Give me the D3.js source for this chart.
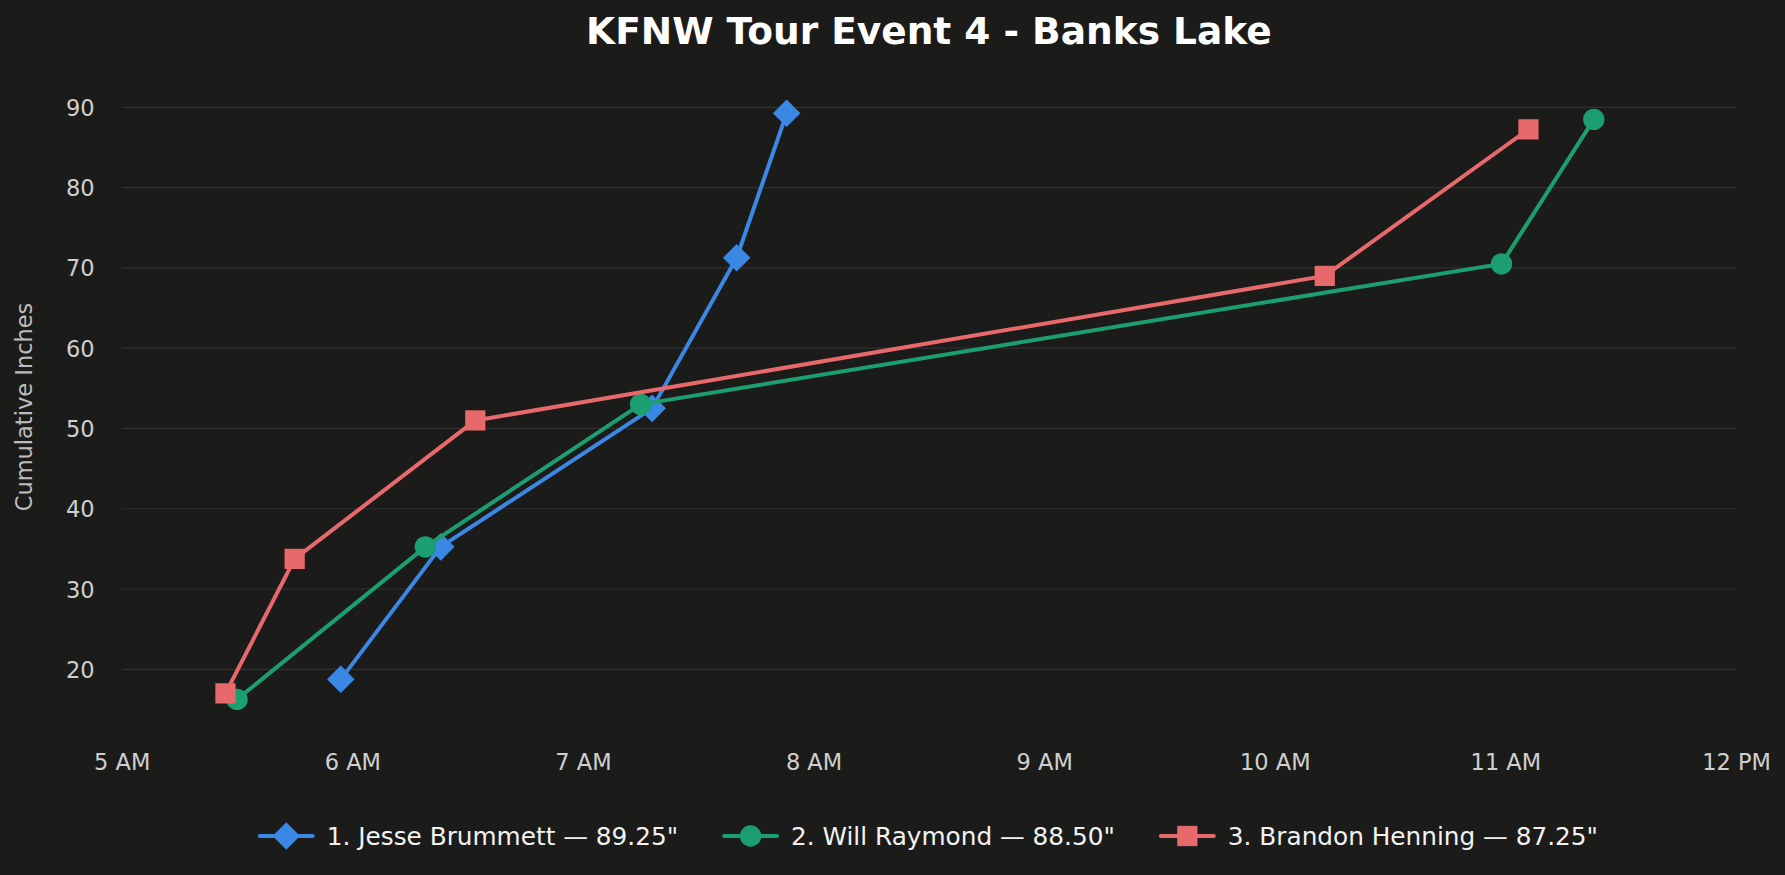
<!DOCTYPE html>
<html>
<head>
<meta charset="utf-8">
<script src="https://cdn.jsdelivr.net/npm/d3@7"></script>
<style>
  html, body { margin: 0; padding: 0; background: #1b1b1a; }
  svg { display: block; font-family: "DejaVu Sans", sans-serif; }
</style>
</head>
<body>
<script>
// Chart data
var chartTitle = "KFNW Tour Event 4 - Banks Lake";
var yLabel = "Cumulative Inches";
var anglers = [
  "1. Jesse Brummett — 89.25\"",
  "2. Will Raymond — 88.50\"",
  "3. Brandon Henning — 87.25\""
];
var jesseTimes = ["05:57", "06:23", "07:18", "07:40", "07:53"];
var jesseInches = [18.75, 35.25, 52.5, 71.25, 89.25];
var willTimes = ["05:30", "06:19", "07:15", "10:59", "11:23"];
var willInches = [16.25, 35.25, 53, 70.5, 88.5];
var brandonTimes = ["05:27", "05:45", "06:32", "10:13", "11:06"];
var brandonInches = [17, 33.75, 51, 69, 87.25];
var yTicks = [20, 30, 40, 50, 60, 70, 80, 90];
var xStart = "05:00";
var xEnd = "12:00";

var colors = ["#3a87e4", "#1b9e70", "#e8696b"];

// SVG area
var svgWidth = 1785;
var svgHeight = 875;

var chartMargin = { top: 107.3, right: 49, bottom: 205.7, left: 121.7 };
var chartWidth = svgWidth - chartMargin.left - chartMargin.right;
var chartHeight = svgHeight - chartMargin.top - chartMargin.bottom;

var svg = d3.select("body")
  .append("svg")
  .attr("width", svgWidth)
  .attr("height", svgHeight);

svg.append("rect")
  .attr("width", svgWidth)
  .attr("height", svgHeight)
  .attr("fill", "#1b1b1a");

var chartGroup = svg.append("g")
  .attr("transform", `translate(${chartMargin.left}, ${chartMargin.top})`);

var parseTime = d3.timeParse("%H:%M");

var series = [
  { name: anglers[0], times: jesseTimes, inches: jesseInches, symbol: "diamond" },
  { name: anglers[1], times: willTimes, inches: willInches, symbol: "circle" },
  { name: anglers[2], times: brandonTimes, inches: brandonInches, symbol: "square" }
];
series.forEach(function(s, i) {
  s.color = colors[i];
  s.points = s.times.map(function(t, j) {
    return { time: parseTime(t), inches: s.inches[j] };
  });
});

// Scales
var xTimeScale = d3.scaleTime()
  .domain([parseTime(xStart), parseTime(xEnd)])
  .range([0, chartWidth]);

var yLinearScale = d3.scaleLinear()
  .domain([20, 90])
  .range([562, 0]);

// Gridlines
chartGroup.append("g")
  .selectAll("line")
  .data(yTicks)
  .enter()
  .append("line")
  .attr("x1", 0)
  .attr("x2", chartWidth)
  .attr("y1", d => yLinearScale(d))
  .attr("y2", d => yLinearScale(d))
  .attr("stroke", "#313130")
  .attr("stroke-width", 1.2);

// Axes (text only, no domain or tick lines)
var leftAxis = d3.axisLeft(yLinearScale).tickValues(yTicks).tickSize(0).tickPadding(27);
var bottomAxis = d3.axisBottom(xTimeScale)
  .ticks(d3.timeHour.every(1))
  .tickFormat(d3.timeFormat("%-I %p"))
  .tickSize(0)
  .tickPadding(0);

var yAxisGroup = chartGroup.append("g").call(leftAxis);
var xAxisGroup = chartGroup.append("g")
  .attr("transform", `translate(0, ${yLinearScale.range()[0]})`)
  .call(bottomAxis);

[yAxisGroup, xAxisGroup].forEach(function(g) {
  g.select(".domain").remove();
  g.selectAll("text")
    .attr("fill", "#cfcfcf")
    .style("font-family", "'DejaVu Sans', sans-serif")
    .style("font-size", "22.5px");
});
yAxisGroup.selectAll("text").attr("dy", "0.36em");
xAxisGroup.selectAll("text").attr("dy", null).attr("y", 100.5);

// Lines
var drawLine = d3.line()
  .x(d => xTimeScale(d.time))
  .y(d => yLinearScale(d.inches));

function markerPath(type) {
  if (type === "circle") return d3.symbol().type(d3.symbolCircle).size(360)();
  if (type === "square") return d3.symbol().type(d3.symbolSquare).size(410)();
  return d3.symbol().type(d3.symbolSquare).size(380)();
}
function markerRotate(type) {
  return type === "diamond" ? " rotate(45)" : "";
}

series.forEach(function(s) {
  chartGroup.append("path")
    .attr("d", drawLine(s.points))
    .attr("fill", "none")
    .attr("stroke", s.color)
    .attr("stroke-width", 4)
    .attr("stroke-linejoin", "round");

  chartGroup.append("g")
    .selectAll("path")
    .data(s.points)
    .enter()
    .append("path")
    .attr("d", markerPath(s.symbol))
    .attr("transform", d => `translate(${xTimeScale(d.time)}, ${yLinearScale(d.inches)})${markerRotate(s.symbol)}`)
    .attr("fill", s.color);
});

// Title
svg.append("text")
  .attr("x", chartMargin.left + chartWidth / 2)
  .attr("y", 44)
  .attr("text-anchor", "middle")
  .attr("fill", "#ffffff")
  .style("font-size", "37.5px")
  .style("font-weight", "bold")
  .text(chartTitle);

// Y axis label
svg.append("text")
  .attr("transform", "translate(32, 407) rotate(-90)")
  .attr("text-anchor", "middle")
  .attr("fill", "#bdbdbd")
  .style("font-size", "22.5px")
  .text(yLabel);

// Legend
var legend = svg.append("g");
var legendX = 0;
series.forEach(function(s, i) {
  var item = legend.append("g").attr("transform", `translate(${legendX}, 0)`);
  item.append("line")
    .attr("x1", 0).attr("x2", 53)
    .attr("y1", 0).attr("y2", 0)
    .attr("stroke", s.color)
    .attr("stroke-width", 4)
    .attr("stroke-linecap", "round");
  item.append("path")
    .attr("d", markerPath(s.symbol))
    .attr("transform", "translate(26.5, 0)" + markerRotate(s.symbol))
    .attr("fill", s.color);
  var label = item.append("text")
    .attr("x", 67)
    .attr("dy", "0.36em")
    .attr("fill", "#f2f2f2")
    .style("font-size", "24.75px")
    .text(s.name);
  legendX += 67 + label.node().getComputedTextLength() + 46;
});
var legendWidth = legendX - 46;
legend.attr("transform", `translate(${chartMargin.left + chartWidth / 2 - legendWidth / 2}, 836)`);
</script>
</body>
</html>
